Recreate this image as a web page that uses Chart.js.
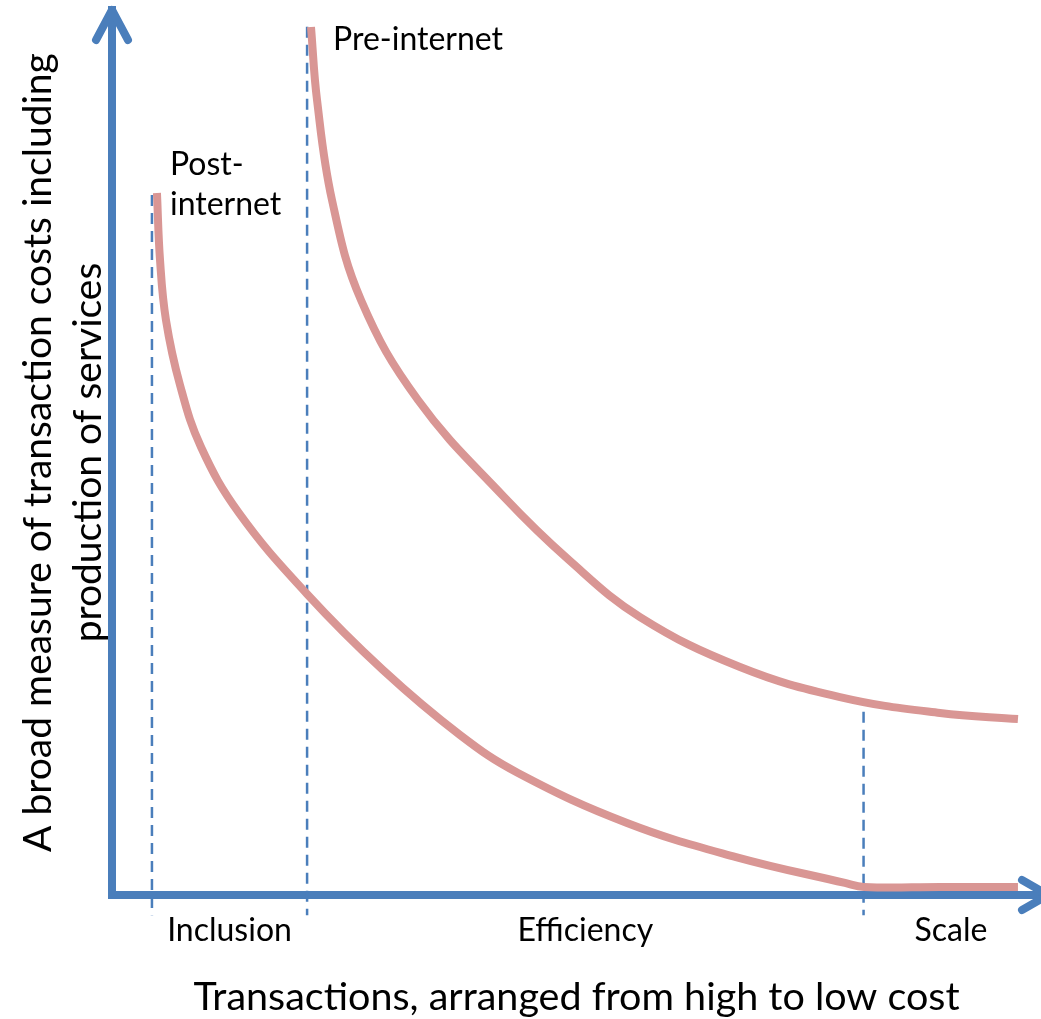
<!DOCTYPE html>
<html lang="en">
<head>
<meta charset="UTF-8" />
<title>Transaction costs, pre- and post-internet</title>
<script src="https://cdn.jsdelivr.net/npm/chart.js"></script>
<style>
  html, body { margin: 0; padding: 0; background: #fff; }
  #wrap { width: 1041px; height: 1019px; }
</style>
</head>
<body>
<div id="wrap"><canvas id="costChart" width="1041" height="1019"></canvas></div>
<script>
  // readings: x = transactions (0-100), y = cost measure (0-100)
  const postX = [4.84, 5.17, 5.81, 7.32, 9.58, 13.67, 20.99, 29.17, 37.46, 43.70, 55.44, 67.17, 78.90, 80.95, 89.13, 97.52];
  const postY = [79.32, 71.75, 64.97, 57.63, 50.62, 43.16, 34.01, 25.42, 18.08, 13.79, 8.14, 4.29, 1.36, 0.90, 0.90, 0.90];
  const preX = [21.42, 22.07, 23.68, 26.80, 32.94, 42.20, 49.19, 56.84, 67.60, 78.36, 89.13, 97.52];
  const preY = [98.08, 89.83, 78.53, 67.23, 55.93, 44.97, 37.85, 31.41, 25.76, 22.37, 20.56, 19.89];

  // dashed markers between the regions
  const markerX = [4.3, 21.0, 80.9];
  const markerTop = [79.1, 98.1, 20.7];
  const markerBottom = -2.3;

  const regionEdges = [4.3, 21.0, 80.9, 99.7];
  const regionLabels = ['Inclusion', 'Efficiency', 'Scale'];

  const curveLabels = [['Post-', 'internet'], ['Pre-internet']];
  const curveLabelX = [6.24, 23.79];
  const curveLabelY = [80.3, 96.7];

  const xTitle = 'Transactions, arranged from high to low cost';
  const yTitle = ['A broad measure of transaction costs including', 'production of services'];

  const BLUE = '#4A7EBB';
  const PINK = '#D99694';
  const FONT = 'Lato, "Open Sans", sans-serif';

  const regionMid = regionLabels.map((_, i) => (regionEdges[i] + regionEdges[i + 1]) / 2);

  const toPoints = (xs, ys) => xs.map((x, i) => ({ x: x, y: ys[i] }));

  const datasets = [
    {
      label: 'Post-internet',
      data: toPoints(postX, postY),
      borderColor: PINK,
      borderWidth: 8,
      tension: 0.4
    },
    {
      label: 'Pre-internet',
      data: toPoints(preX, preY),
      borderColor: PINK,
      borderWidth: 8,
      tension: 0.4
    }
  ];
  markerX.forEach((x, i) => {
    datasets.push({
      label: 'marker' + i,
      data: [{ x: x, y: markerTop[i] }, { x: x, y: markerBottom }],
      borderColor: BLUE,
      borderWidth: 2.5,
      borderDash: [11, 7],
      clip: false
    });
  });

  // arrow heads on the axes + curve names
  const extras = {
    id: 'extras',
    afterDraw(chart) {
      const { ctx, chartArea, scales } = chart;
      const x0 = chartArea.left, y0 = chartArea.bottom;
      ctx.save();
      ctx.strokeStyle = BLUE;
      ctx.lineWidth = 8;
      ctx.lineCap = 'round';
      ctx.lineJoin = 'round';
      ctx.beginPath();
      ctx.moveTo(x0 - 16, chartArea.top + 30);
      ctx.lineTo(x0, chartArea.top);
      ctx.lineTo(x0 + 16, chartArea.top + 30);
      ctx.stroke();
      ctx.beginPath();
      ctx.moveTo(chartArea.right - 19, y0 - 15);
      ctx.lineTo(chartArea.right + 7, y0);
      ctx.lineTo(chartArea.right - 19, y0 + 15);
      ctx.stroke();
      // square corner
      ctx.fillStyle = BLUE;
      ctx.fillRect(x0 - 4, y0 - 4, 8, 8);

      ctx.fillStyle = '#000';
      ctx.font = '32px ' + FONT;
      ctx.textAlign = 'left';
      ctx.textBaseline = 'middle';
      curveLabels.forEach((lines, i) => {
        const px = scales.x.getPixelForValue(curveLabelX[i]);
        const py = scales.y.getPixelForValue(curveLabelY[i]);
        const lh = 40;
        lines.forEach((t, j) => {
          ctx.fillText(t, px, py + (j - (lines.length - 1) / 2) * lh);
        });
      });
      ctx.restore();
    }
  };

  new Chart(document.getElementById('costChart'), {
    type: 'scatter',
    data: { datasets: datasets },
    options: {
      responsive: false,
      animation: false,
      devicePixelRatio: 1,
      showLine: true,
      layout: { padding: { top: 10, right: 0, bottom: 0, left: 0 }, autoPadding: false },
      elements: { point: { radius: 0, hoverRadius: 0 } },
      plugins: { legend: { display: false }, tooltip: { enabled: false } },
      scales: {
        x: {
          type: 'linear',
          min: 0,
          max: 100,
          z: 1,
          grid: { display: true, drawOnChartArea: false, drawTicks: false, color: 'transparent' },
          border: { display: true, color: BLUE, width: 8 },
          afterBuildTicks: (scale) => { scale.ticks = regionMid.map(v => ({ value: v })); },
          afterFit: (scale) => { scale.height = 124; },
          ticks: {
            autoSkip: false,
            maxRotation: 0,
            padding: 16,
            color: '#000',
            font: { family: FONT, size: 32 },
            callback: (value, index) => regionLabels[index]
          },
          title: {
            display: true,
            text: xTitle,
            color: '#000',
            padding: { top: 0, bottom: 0 },
            font: { family: FONT, size: 39.5, lineHeight: 1.1 }
          }
        },
        y: {
          type: 'linear',
          min: 0,
          max: 100,
          z: 1,
          grid: { display: true, drawOnChartArea: false, drawTicks: false, color: 'transparent' },
          border: { display: true, color: BLUE, width: 8 },
          afterFit: (scale) => { scale.width = 112; },
          ticks: { display: false },
          title: {
            display: true,
            text: yTitle,
            color: '#000',
            padding: { top: 13, bottom: 0 },
            font: { family: FONT, size: 39, lineHeight: 50 / 39 }
          }
        }
      }
    },
    plugins: [extras]
  });
</script>
</body>
</html>
